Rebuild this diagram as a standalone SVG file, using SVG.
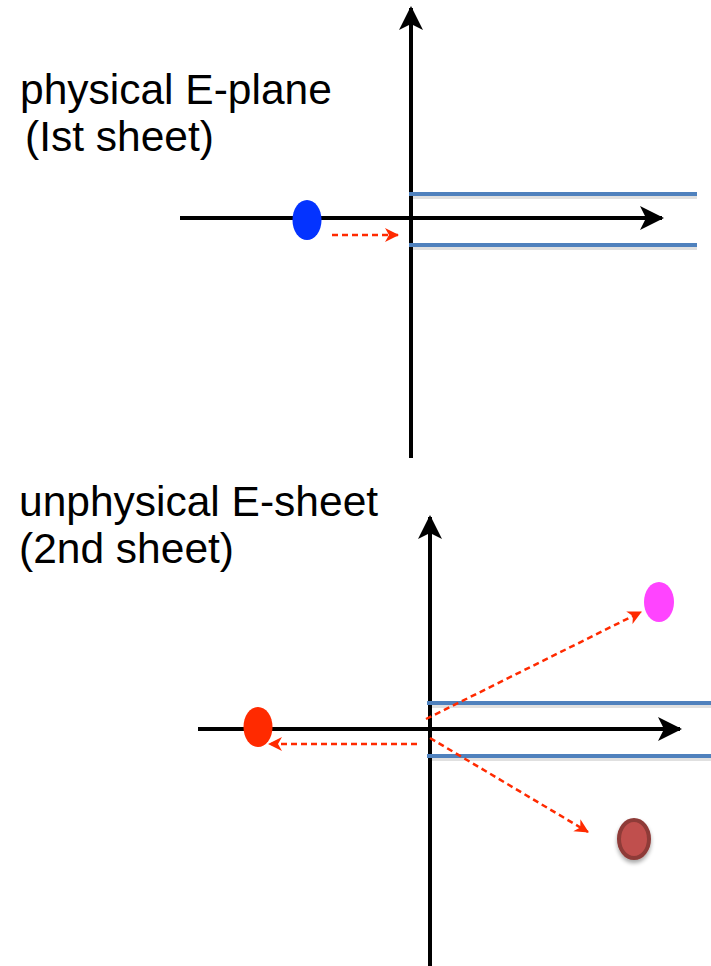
<svg xmlns="http://www.w3.org/2000/svg" width="711" height="966" viewBox="0 0 711 966">
<defs>
<style>
.axis{stroke:#000;stroke-width:4;fill:none}
.cut{stroke:#4F81BD;stroke-width:4;fill:none}
.cutsh{stroke:#000;stroke-opacity:0.12;stroke-width:4;fill:none}
.move{stroke:#FF2A00;stroke-width:2.5;stroke-dasharray:6 4;fill:none}
.lbl{font-family:"Liberation Sans",Arial,sans-serif;font-size:42.5px;fill:#000}
</style>
<marker id="ah" viewBox="0 0 24 24" refX="22" refY="12" markerWidth="24" markerHeight="24" markerUnits="userSpaceOnUse" orient="auto">
<path d="M0,0 L24,12 L0,24 L6,12 Z" fill="#000"/>
</marker>
<marker id="rh" viewBox="0 0 14 14" refX="13" refY="7" markerWidth="14" markerHeight="14" markerUnits="userSpaceOnUse" orient="auto">
<path d="M0,0 L14,7 L0,14 L4,7 Z" fill="#FF2A00"/>
</marker>
<filter id="sh" x="-50%" y="-50%" width="200%" height="200%">
<feGaussianBlur in="SourceAlpha" stdDeviation="2"/>
<feOffset dx="0" dy="3"/>
<feComponentTransfer><feFuncA type="linear" slope="0.35"/></feComponentTransfer>
<feMerge><feMergeNode/><feMergeNode in="SourceGraphic"/></feMerge>
</filter>
</defs>
<rect width="711" height="966" fill="#fff"/>

<g id="label-top">
<text class="lbl" x="20" y="104">physical E-plane</text>
<text class="lbl" x="25" y="151">(Ist sheet)</text>
</g>
<g id="label-bottom">
<text class="lbl" x="19" y="516">unphysical E-sheet</text>
<text class="lbl" x="19" y="563">(2nd sheet)</text>
</g>

<g id="axes-top">
<line class="axis" x1="411" y1="458" x2="411" y2="8" marker-end="url(#ah)"/>
<line class="axis" x1="180" y1="218" x2="662" y2="218" marker-end="url(#ah)"/>
</g>
<g id="cuts-top">
<line class="cutsh" x1="411" y1="197" x2="697" y2="197"/>
<line class="cutsh" x1="411" y1="248" x2="697" y2="248"/>
<line class="cut" x1="409" y1="194" x2="697" y2="194"/>
<line class="cut" x1="409" y1="245" x2="697" y2="245"/>
</g>
<g id="pole-blue">
<ellipse cx="307" cy="220" rx="14.5" ry="20" fill="#0433FF"/>
</g>

<g id="axes-bottom">
<line class="axis" x1="430" y1="966" x2="430" y2="517" marker-end="url(#ah)"/>
<line class="axis" x1="198" y1="729" x2="680" y2="729" marker-end="url(#ah)"/>
</g>
<g id="cuts-bottom">
<line class="cutsh" x1="429" y1="706" x2="711" y2="706"/>
<line class="cutsh" x1="429" y1="759" x2="711" y2="759"/>
<line class="cut" x1="427" y1="703" x2="711" y2="703"/>
<line class="cut" x1="427" y1="756" x2="711" y2="756"/>
</g>
<g id="pole-red">
<ellipse cx="258" cy="727" rx="14.5" ry="20" fill="#FF2A00"/>
</g>
<g id="pole-magenta">
<ellipse cx="659" cy="602" rx="15" ry="20" fill="#FF44FF"/>
</g>
<g id="pole-brown" filter="url(#sh)">
<ellipse cx="634" cy="839" rx="15" ry="19" fill="#C0504D" stroke="#8E3B38" stroke-width="4"/>
</g>

<g id="connectors">
<line class="move" x1="332" y1="235" x2="398" y2="235" marker-end="url(#rh)"/>
<line class="move" x1="417" y1="744" x2="269" y2="744" marker-end="url(#rh)"/>
<line class="move" x1="426" y1="719" x2="641" y2="612" marker-end="url(#rh)"/>
<line class="move" x1="430" y1="738" x2="588" y2="832" marker-end="url(#rh)"/>
</g>
</svg>
